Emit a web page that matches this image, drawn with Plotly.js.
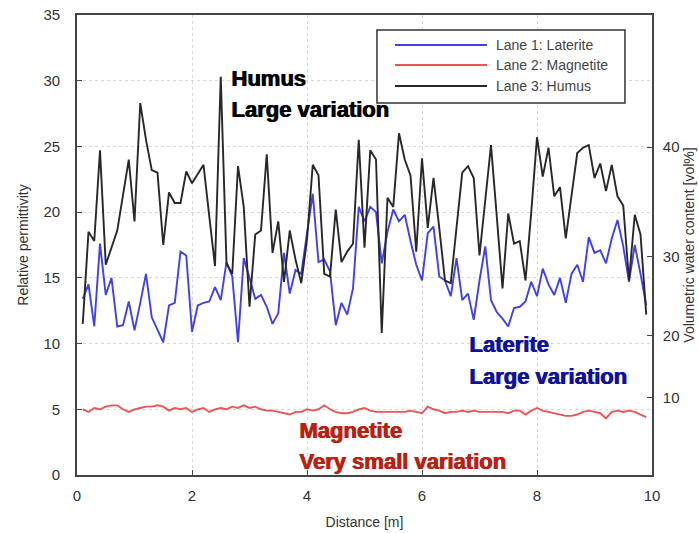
<!DOCTYPE html>
<html>
<head>
<meta charset="utf-8">
<script src="https://cdn.plot.ly/plotly-3.0.1.min.js"></script>
<style>
html,body{margin:0;padding:0;background:#fff;}
#chart{width:699px;height:533px;}
</style>
</head>
<body>
<div id="chart"></div>
<script>
// Distance [m]
var distance = [0.1,0.2,0.3,0.4,0.5,0.6,0.7,0.8,0.9,1.0,
1.1,1.2,1.3,1.4,1.5,1.6,1.7,1.8,1.9,2.0,
2.1,2.2,2.3,2.4,2.5,2.6,2.7,2.8,2.9,3.0,
3.1,3.2,3.3,3.4,3.5,3.6,3.7,3.8,3.9,4.0,
4.1,4.2,4.3,4.4,4.5,4.6,4.7,4.8,4.9,5.0,
5.1,5.2,5.3,5.4,5.5,5.6,5.7,5.8,5.9,6.0,
6.1,6.2,6.3,6.4,6.5,6.6,6.7,6.8,6.9,7.0,
7.1,7.2,7.3,7.4,7.5,7.6,7.7,7.8,7.9,8.0,
8.1,8.2,8.3,8.4,8.5,8.6,8.7,8.8,8.9,9.0,
9.1,9.2,9.3,9.4,9.5,9.6,9.7,9.8,9.9];

// Lane 1: Laterite (relative permittivity)
var laterite = [13.4,14.5,11.3,17.6,13.7,15.0,11.3,11.4,13.2,11.0,
13.1,15.3,12.0,11.0,10.1,12.9,13.1,17.0,16.7,10.9,
12.9,13.1,13.2,14.3,13.3,16.2,15.1,10.1,16.5,15.0,
13.4,13.7,12.8,11.5,12.3,16.9,13.8,15.6,15.3,18.4,
21.4,16.2,16.4,15.5,11.4,13.1,12.2,14.2,20.4,19.3,
20.4,20.0,16.1,18.5,20.2,19.3,19.8,17.8,16.0,14.8,
18.4,18.9,15.1,14.8,13.6,16.5,13.3,13.8,11.8,14.8,
17.4,13.3,12.4,11.9,11.3,12.7,12.8,13.2,14.7,13.6,
15.7,14.5,13.7,15.0,13.1,15.3,16.0,14.7,18.1,16.9,
17.1,16.1,18.0,19.4,17.4,14.7,17.5,15.3,12.9];

// Lane 2: Magnetite
var magnetite = [5.0,4.8,5.1,5.0,5.2,5.3,5.3,5.0,4.8,5.0,
5.1,5.2,5.2,5.3,5.2,4.9,5.1,5.0,5.1,4.8,
5.0,5.1,4.8,5.0,5.1,5.0,5.2,5.1,5.3,5.1,
5.2,5.0,4.9,4.9,4.8,4.7,4.6,4.8,4.8,5.0,
4.9,5.0,5.3,5.0,4.8,4.7,4.7,4.8,5.0,5.1,
4.9,4.8,4.8,4.8,4.8,4.8,4.8,4.9,4.8,4.7,
5.2,5.0,4.9,4.7,4.8,4.8,4.9,4.8,4.9,4.8,
4.8,4.8,4.8,4.8,4.7,4.9,4.9,4.6,4.9,5.1,
4.9,4.8,4.7,4.6,4.5,4.5,4.6,4.8,4.9,4.8,
4.7,4.3,4.8,4.9,4.8,4.9,4.8,4.6,4.4];

// Lane 3: Humus
var humus = [11.5,18.5,17.8,24.7,16.0,17.3,18.6,21.3,24.0,19.3,
28.3,25.5,23.2,23.0,17.5,21.5,20.7,20.7,23.1,22.2,
22.9,23.6,19.7,15.9,30.3,16.1,15.3,23.5,20.4,12.8,
18.3,18.6,24.4,16.9,19.3,14.7,18.6,16.4,14.6,17.9,
23.6,22.8,15.3,15.1,20.2,16.2,17.0,17.6,25.5,17.3,
24.7,24.0,10.8,21.1,20.4,26.0,24.0,22.8,17.0,24.1,
18.8,22.6,18.8,14.8,14.6,18.9,23.0,23.5,22.6,16.7,
20.7,25.1,19.7,14.2,19.9,17.6,17.8,14.8,20.0,25.7,
22.7,24.9,21.2,21.9,18.0,21.3,24.5,24.9,25.1,22.6,
23.7,21.6,23.6,21.2,20.5,14.8,19.8,18.3,12.2];

// Right axis: volumetric water content ticks, placed at the matching permittivity
var vwcTickLabels = ["10","20","30","40"];
var vwcTickPermittivity = [5.86,10.6,16.6,24.95];

var xTicks = [0,2,4,6,8,10];
var yTicks = [0,5,10,15,20,25,30,35];

var seriesNames = ["Lane 1: Laterite", "Lane 2: Magnetite", "Lane 3: Humus"];
var seriesColors = ["rgb(65,65,235)", "rgb(235,85,85)", "rgb(40,40,40)"];
var seriesValues = [laterite, magnetite, humus];

var traces = seriesValues.map(function (vals, i) {
  return {x: distance, y: vals, name: seriesNames[i], type: "scatter", mode: "lines",
    showlegend: false, line: {color: seriesColors[i], width: 1.9}};
});
traces.push({x: [distance[0]], y: [null], yaxis: "y2", showlegend: false, hoverinfo: "skip",
  type: "scatter", mode: "lines"});

var annFont = {family: "Liberation Sans, Arial, sans-serif", size: 22, weight: 700};
function ann(txt, x, y, color) {
  return {text: "<b>" + txt + "</b>", x: x, y: y, xref: "x", yref: "y",
    xanchor: "left", yanchor: "middle", showarrow: false,
    font: Object.assign({}, annFont, {color: color, shadow: "1px 0px 0px " + color})};
}

// Legend box drawn in paper coordinates (MATLAB-style long line samples)
var legX0 = 0.5217, legX1 = 0.953, legY0 = 0.8087, legY1 = 0.9674;
var legLineX0 = 0.553, legLineX1 = 0.713, legTextX = 0.7252;
var legRowY = [0.9348, 0.8913, 0.8457];

var shapes = [{type: "rect", xref: "paper", yref: "paper", x0: legX0, x1: legX1, y0: legY0, y1: legY1,
  line: {color: "#333", width: 1.5}, fillcolor: "#fff", layer: "above"}];
var annotations = [];
seriesNames.forEach(function (nm, i) {
  shapes.push({type: "line", xref: "paper", yref: "paper", x0: legLineX0, x1: legLineX1,
    y0: legRowY[i], y1: legRowY[i], line: {color: seriesColors[i], width: 2}, layer: "above"});
  annotations.push({text: nm, xref: "paper", yref: "paper", x: legTextX, y: legRowY[i],
    xanchor: "left", yanchor: "middle", showarrow: false,
    font: {family: "Liberation Sans, Arial, sans-serif", size: 14, color: "#444"}});
});
annotations.push(ann("Humus", 2.64, 30.2, "#000000"));
annotations.push(ann("Large variation", 2.64, 27.8, "#000000"));
annotations.push(ann("Laterite", 6.78, 9.9, "#1010a0"));
annotations.push(ann("Large variation", 6.78, 7.5, "#1010a0"));
annotations.push(ann("Magnetite", 3.83, 3.42, "#b8200f"));
annotations.push(ann("Very small variation", 3.83, 0.99, "#b8200f"));

var layout = {
  width: 699, height: 533,
  margin: {l: 77, r: 47, t: 15, b: 58},
  paper_bgcolor: "#fff", plot_bgcolor: "#fff",
  font: {family: "Liberation Sans, Arial, sans-serif", color: "#333"},
  showlegend: false,
  xaxis: {range: [0, 10], tickvals: xTicks, ticks: "inside", ticklen: 5, tickcolor: "#444",
    showline: true, linecolor: "#444", linewidth: 1.8, mirror: true,
    showgrid: true, gridcolor: "#d8d8d8", griddash: "dot", zeroline: false,
    tickfont: {size: 15, color: "#333"}, ticklabelstandoff: 6,
    title: {text: "Distance [m]", font: {size: 14, color: "#333"}, standoff: 14}},
  yaxis: {range: [0, 35], tickvals: yTicks, ticks: "inside", ticklen: 5, tickcolor: "#444",
    showline: true, linecolor: "#444", linewidth: 1.8,
    showgrid: true, gridcolor: "#d8d8d8", griddash: "dot", zeroline: false,
    tickfont: {size: 15, color: "#333"}, ticklabelstandoff: 12,
    title: {text: "Relative permittivity", font: {size: 14, color: "#333"}, standoff: 12}},
  yaxis2: {range: [0, 35], overlaying: "y", side: "right", tickvals: vwcTickPermittivity,
    ticktext: vwcTickLabels, ticks: "inside", ticklen: 5, tickcolor: "#444",
    showline: true, linecolor: "#444", linewidth: 1.8, showgrid: false, zeroline: false,
    tickfont: {size: 15, color: "#333"}, ticklabelstandoff: 6,
    title: {text: "Volumetric water content [vol%]", font: {size: 14, color: "#333"}, standoff: 6}},
  shapes: shapes,
  annotations: annotations
};

Plotly.newPlot("chart", traces, layout, {displayModeBar: false, staticPlot: true});
</script>
</body>
</html>
